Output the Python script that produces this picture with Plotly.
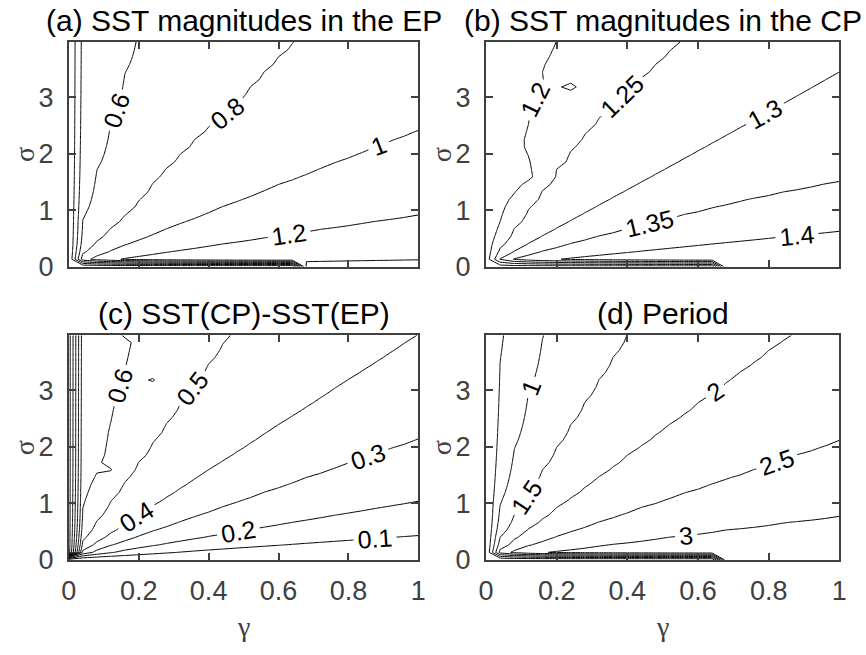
import numpy as np
import plotly.graph_objects as go

# ---------------- grid of the simulation (gamma, sigma) ----------------
gamma = np.linspace(0, 1, 26)
sigma = np.linspace(0, 3.98, 31)

# ---------------- values ----------------
# Each field is (almost) a function of the ratio sigma/gamma.
# *_values : field value found along a ray
# *_slopes : slope (sigma per gamma) of that ray; a tuple means the slope
#            read at the heights given in the matching wig_sig list
wig_sig_cp120 = [0.0, 1.0, 1.3, 1.6, 1.9, 2.2, 2.6, 2.9, 3.1, 3.5, 4.0]
wig_slp_cp120 = [20.0, 20.0, 16.0, 10.5, 15.0, 21.0, 21.0, 24.0, 18.7, 22.0, 20.0]
wig_sig_cp125 = [0.0, 1.0, 2.0, 3.0, 3.5, 4.0]
wig_slp_cp125 = [8.7, 8.6, 8.7, 8.0, 7.5, 7.3]
wig_sig_cp135 = [0.0, 0.5, 0.8, 1.2, 1.4, 1.6, 2.0]
wig_slp_cp135 = [1.8, 1.75, 1.67, 1.62, 1.55, 1.5, 1.5]
wig_sig_df060 = [0.0, 1.0, 1.8, 2.3, 2.8, 3.5, 3.87, 4.0]
wig_slp_df060 = [23.0, 23.0, 17.0, 20.0, 21.0, 21.0, 21.5, 27.6]
wig_sig_ep080 = [0.0, 1.0, 1.6, 2.5, 2.8, 3.0, 3.5, 4.0]
wig_slp_ep080 = [5.8, 5.7, 6.3, 6.25, 5.9, 6.1, 6.2, 6.2]

ep_values = [1.45, 1.40, 1.20, 1.00, 0.80, 0.60, 0.45]
ep_slopes = [0.0, 0.12, 0.92, 2.43, (wig_sig_ep080, wig_slp_ep080), 21.4, 100.0]
ep_left = 0.0          # value along gamma = 0
ep_bottom_low = 0.0    # value along sigma = 0 for gamma < cut
ep_islands = []        # (gamma, sigma, value) isolated grid values

cp_values = [1.45, 1.40, 1.35, 1.30, 1.25, 1.20, 1.17]
cp_slopes = [0.0, 0.63, (wig_sig_cp135, wig_slp_cp135), 3.45,
             (wig_sig_cp125, wig_slp_cp125), (wig_sig_cp120, wig_slp_cp120), 100.0]
cp_left = 1.17
cp_bottom_low = 1.17
cp_islands = [(0.24, 3.18, 1.185)]

df_values = [0.0, 0.10, 0.20, 0.30, 0.40, 0.50, 0.60, 0.65]
df_slopes = [0.0, 0.43, 1.04, 2.15, 4.0, 8.7, (wig_sig_df060, wig_slp_df060), 100.0]
df_left = 1.15
df_bottom_low = 0.0
df_islands = [(0.24, 3.18, 0.61), (0.12, 1.59, 0.605)]

pd_values = [3.4, 3.0, 2.5, 2.0, 1.5, 1.0, 0.5, 0.45]
pd_slopes = [0.0, 0.78, 2.12, 4.64, 10.0, 24.6, 88.0, 100.0]
pd_left = 0.0
pd_bottom_low = 0.0
pd_islands = []

bottom_cut = 0.66      # gamma beyond which the sigma = 0 row is regular

titles = ["(a) SST magnitudes in the EP", "(b) SST magnitudes in the CP",
          "(c) SST(CP)-SST(EP)", "(d) Period"]
levels = [(0.2, 1.4, 0.2), (1.2, 1.4, 0.05), (0.1, 1.1, 0.1), (0.5, 3.0, 0.5)]

x_ticks = [0, 0.2, 0.4, 0.6, 0.8, 1]
x_ticktext = ["0", "0.2", "0.4", "0.6", "0.8", "1"]
y_ticks = [0, 1, 2, 3]
y_ticktext = ["0", "1", "2", "3"]


def slope_at(entry, s):
    if isinstance(entry, tuple):
        return np.interp(s, entry[0], entry[1])
    return float(entry)


def build(slopes, values, left, bottom_low, islands):
    z = np.zeros((len(sigma), len(gamma)))
    for j, s in enumerate(sigma):
        angs = np.arctan(np.array([slope_at(e, s) for e in slopes]))
        ang_row = np.arctan2(s, gamma)
        z[j, :] = np.interp(ang_row, angs, np.array(values))
    z[0, gamma < bottom_cut] = bottom_low
    z[1:, 0] = left
    z[0, 0] = bottom_low
    for g, s, v in islands:
        i = int(np.argmin(np.abs(gamma - g)))
        j = int(np.argmin(np.abs(sigma - s)))
        z[j, i] = v
    return z


fields = [build(ep_slopes, ep_values, ep_left, ep_bottom_low, ep_islands),
          build(cp_slopes, cp_values, cp_left, cp_bottom_low, cp_islands),
          build(df_slopes, df_values, df_left, df_bottom_low, df_islands),
          build(pd_slopes, pd_values, pd_left, pd_bottom_low, pd_islands)]

W, H = 866, 655
# axes boxes in pixels: (left, right, top, bottom)
boxes = [(62, 418, 43, 273), (487, 847, 43, 273),
         (62, 418, 343, 573), (487, 847, 343, 573)]

fig = go.Figure()
axcol = "#404040"
tickfont = dict(family="Liberation Sans", size=27, color=axcol)

for k in range(4):
    st, en, sz = levels[k]
    xa = "x" if k == 0 else f"x{k+1}"
    ya = "y" if k == 0 else f"y{k+1}"
    fig.add_trace(go.Contour(
        x=gamma, y=sigma, z=fields[k],
        xaxis=xa, yaxis=ya,
        autocontour=False,
        contours=dict(start=st, end=en + sz * 0.01, size=sz, coloring="none",
                      showlabels=True,
                      labelfont=dict(family="Liberation Sans", size=25, color="black"),
                      labelformat=".2~f"),
        line=dict(color="black", width=1, smoothing=0),
        showscale=False, hoverinfo="skip",
    ))
    l, r, t, b = boxes[k]
    xd = [l / W, r / W]
    yd = [1 - b / H, 1 - t / H]
    xkey = "xaxis" if k == 0 else f"xaxis{k+1}"
    ykey = "yaxis" if k == 0 else f"yaxis{k+1}"
    fig.layout[xkey] = dict(domain=xd, range=[0, 1], anchor=ya,
                            tickvals=x_ticks, ticktext=x_ticktext,
                            showticklabels=(k >= 2), ticklabelstandoff=6,
                            showline=True, linecolor=axcol, linewidth=2,
                            mirror="allticks", ticks="inside", ticklen=7,
                            tickcolor=axcol, tickwidth=1.5,
                            showgrid=False, zeroline=False, tickfont=tickfont)
    fig.layout[ykey] = dict(domain=yd, range=[0, 3.98], anchor=xa,
                            tickvals=y_ticks, ticktext=y_ticktext,
                            ticklabelstandoff=8,
                            showline=True, linecolor=axcol, linewidth=2,
                            mirror="allticks", ticks="inside", ticklen=7,
                            tickcolor=axcol, tickwidth=1.5,
                            showgrid=False, zeroline=False, tickfont=tickfont)
    # title
    fig.add_annotation(text=titles[k], x=(l + r) / 2 / W, y=1 - (t - 22) / H,
                       xref="paper", yref="paper", showarrow=False,
                       xanchor="center", yanchor="middle",
                       font=dict(family="Liberation Sans", size=30, color="black"))
    # sigma label
    fig.add_annotation(text="σ", x=(l - 45) / W, y=1 - (t + b) / 2 / H,
                       xref="paper", yref="paper", showarrow=False,
                       textangle=-90, xanchor="center", yanchor="middle",
                       font=dict(family="Liberation Serif", size=28, color=axcol))
    if k >= 2:
        fig.add_annotation(text="γ", x=(l + r) / 2 / W, y=1 - (b + 68) / H,
                           xref="paper", yref="paper", showarrow=False,
                           xanchor="center", yanchor="middle",
                           font=dict(family="Liberation Serif", size=28, color=axcol))

fig.update_layout(width=W, height=H, margin=dict(l=0, r=0, t=0, b=0),
                  paper_bgcolor="white", plot_bgcolor="white",
                  showlegend=False)

fig.write_html("out.html")
